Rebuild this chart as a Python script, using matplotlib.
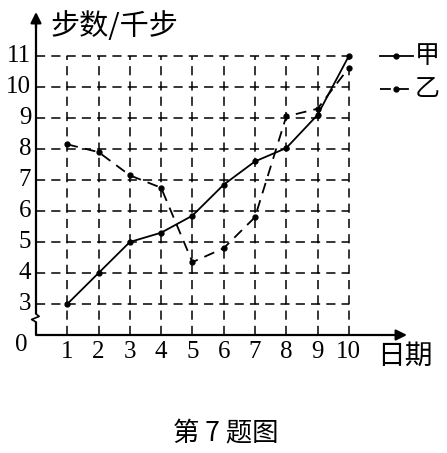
import numpy as np
import matplotlib
matplotlib.use("Agg")
import matplotlib.pyplot as plt

plt.rcParams['font.family'] = ['Liberation Serif', 'Noto Sans CJK SC', 'DejaVu Sans']

# data
days = [1, 2, 3, 4, 5, 6, 7, 8, 9, 10]
jia = [3, 4, 5, 5.3, 5.85, 6.85, 7.6, 8.03, 9.1, 11]
yi = [8.15, 7.9, 7.15, 6.75, 4.35, 4.8, 5.8, 9.05, 9.3, 10.62]
y_ticks = [3, 4, 5, 6, 7, 8, 9, 10, 11]
series_names = ['甲', '乙']
y_label = '步数/千步'
x_label = '日期'
caption = '第 7 题图'


def fwd(v):
    v = np.asarray(v, dtype=float)
    return np.where(v >= 3, v - 2, v / 3)


def inv(u):
    u = np.asarray(u, dtype=float)
    return np.where(u >= 1, u + 2, u * 3)


fig = plt.figure(figsize=(4.47, 4.53), dpi=100)
W, H = 447, 453
x0, y0 = 36, 335     # axis origin in pixels
x1, y1 = 407, 12     # arrow tips
ax = fig.add_axes([x0 / W, (H - y0) / H, (x1 - x0) / W, (y0 - y1) / H])
ax.set_yscale('function', functions=(fwd, inv))
ax.set_xlim(0, 11.86)
ax.set_ylim(0, inv(10.42))
for s in ax.spines.values():
    s.set_visible(False)
ax.set_xticks([])
ax.set_yticks([])

dash = (0, (6, 4))
# grid
ax.hlines(y_ticks, 0, days[-1], colors='black', linestyles=dash, linewidth=1.1)
ax.vlines(days, 0, y_ticks[-1], colors='black', linestyles=dash, linewidth=1.1)

# axes with arrows
ax.annotate('', xy=(1, 0), xytext=(0, 0), xycoords='axes fraction',
            arrowprops=dict(arrowstyle='-|>', color='black', lw=1.6,
                            mutation_scale=16, shrinkA=0, shrinkB=0))
br0, br1 = inv(0.42), inv(0.68)
ax.plot([0, 0], [0, br0], color='black', lw=1.6, solid_capstyle='butt', clip_on=False)
ax.plot([0, -0.14, 0.1, 0], [br0, inv(0.5), inv(0.6), br1], color='black', lw=1.2,
        clip_on=False)
ax.plot([0, 0], [br1, inv(10.2)], color='black', lw=1.6, solid_capstyle='butt',
        clip_on=False)
ax.annotate('', xy=(0, 1), xytext=(0, 0.95), xycoords='axes fraction',
            arrowprops=dict(arrowstyle='-|>', color='black', lw=1.6,
                            mutation_scale=16, shrinkA=0, shrinkB=0))

# series
ax.plot(days, jia, color='black', lw=1.3, marker='o', markersize=3.5)
ax.plot(days, yi, color='black', lw=1.3, ls=dash, marker='o', markersize=3.5)

# tick labels
for d in days:
    ax.text(d, inv(-0.2), str(d), ha='center', va='top', fontsize=18)
for t in y_ticks:
    ax.text(-0.15, t, str(t), ha='right', va='center', fontsize=18)
ax.text(-0.28, inv(-0.33), '0', ha='right', va='center', fontsize=18, clip_on=False)

ax.text(0.45, inv(9.95), y_label, ha='left', va='center', fontsize=21,
        family=['Noto Sans CJK SC'])
ax.text(10.9, inv(-0.68), x_label, ha='left', va='center', fontsize=20,
        family=['Noto Sans CJK SC'])

# legend drawn by hand at right
for i, (name, ls) in enumerate(zip(series_names, ['-', dash])):
    yy = inv(9.0 - i * 1.05)
    ax.plot([11.0, 12.05], [yy, yy], color='black', lw=1.3, ls=ls, clip_on=False)
    ax.plot([11.52], [yy], 'o', color='black', markersize=3.5, clip_on=False)
    ax.text(12.1, yy, name, ha='left', va='center', fontsize=18,
            family=['Noto Sans CJK SC'], clip_on=False)

fig.text(226 / W, 1 - 433 / H, caption, ha='center', va='center', fontsize=19,
         family=['Noto Sans CJK SC', 'Liberation Serif'])

fig.savefig('out.png', dpi=100)
